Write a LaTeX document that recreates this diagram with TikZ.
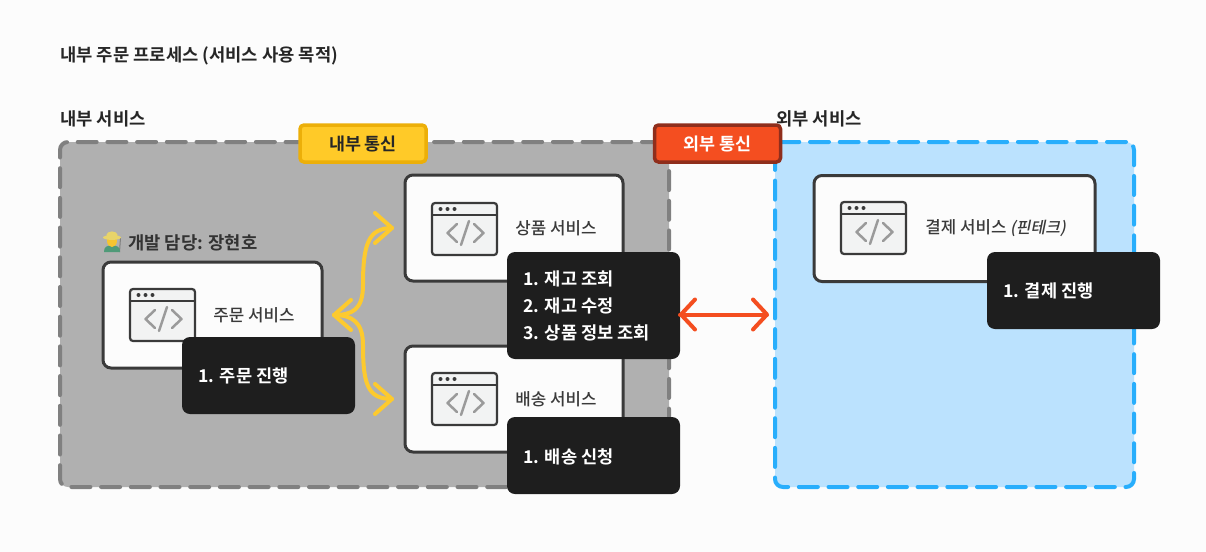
\documentclass[tikz,border=0pt]{standalone}
\usepackage{fontspec}
\setmainfont{Noto Sans CJK KR Medium}
\newfontfamily\krbold{Noto Sans CJK KR Bold}
\newfontfamily\krslant[FakeSlant=0.2]{Noto Sans CJK KR Medium}
\definecolor{pagebg}{HTML}{FCFCFC}
\definecolor{graybox}{HTML}{B0B0B0}
\definecolor{graydash}{HTML}{808080}
\definecolor{bluebox}{HTML}{BBE2FE}
\definecolor{bluedash}{HTML}{28AEFC}
\definecolor{tagyellow}{HTML}{FFCA28}
\definecolor{tagyellowline}{HTML}{ECAF09}
\definecolor{tagred}{HTML}{F44E20}
\definecolor{tagredline}{HTML}{8F2E1C}
\definecolor{inkdark}{HTML}{3A3A3A}
\definecolor{noteblack}{HTML}{1E1E1E}
\definecolor{arrowyellow}{HTML}{FDCA2E}
\definecolor{iconfill}{HTML}{F2F3F3}
\definecolor{icongray}{HTML}{9A9A9A}
\definecolor{farmerhat}{HTML}{E8D46A}
\definecolor{farmerface}{HTML}{F5C430}
\definecolor{farmerbody}{HTML}{4F9A78}
\tikzset{
  x=0.5pt,y=-0.5pt,
  zone/.style={draw,line width=2pt,line cap=round,rounded corners=4pt,dash pattern=on 9.5pt off 5.35pt,outer sep=0pt,inner sep=0pt},
  tagbox/.style={draw,line width=1.75pt,rounded corners=2pt,minimum width=63pt,minimum height=18.5pt,outer sep=0pt,inner sep=0pt,font=\krbold\fontsize{8.7}{10}\selectfont},
  service/.style={draw=inkdark,fill=pagebg,line width=1.5pt,rounded corners=4pt,minimum height=53pt,outer sep=0pt,inner sep=0pt},
  note/.style={fill=noteblack,rounded corners=4pt,minimum width=86.5pt,outer sep=0pt,inner sep=0pt},
  notetext/.style={anchor=west,text=white,align=left,inner sep=0pt,font=\krbold\fontsize{8.8}{13.5}\selectfont},
  heading/.style={anchor=west,inner sep=0pt,text=black!85,font=\krbold\fontsize{8.85}{10}\selectfont},
  svclabel/.style={anchor=west,inner sep=0pt,text=inkdark,font=\fontsize{8.4}{10}\selectfont},
  yellowlink/.style={draw=arrowyellow,line width=2pt,line cap=round,line join=round},
  redlink/.style={draw=tagred,line width=2pt,line cap=round,line join=round},
  pics/winicon/.style={code={
    \draw[draw=inkdark,fill=iconfill,line width=1.1pt,rounded corners=1.5pt] (0,0) rectangle (65,52);
    \draw[draw=inkdark,line width=1.1pt] (0,12) -- (65,12);
    \fill[inkdark] (8.5,6) circle (1pt) (15.5,6) circle (1pt) (22.5,6) circle (1pt);
    \draw[icongray,line width=1.25pt,line cap=round,line join=round] (25,21) -- (15.5,30) -- (25,39) (29,42) -- (37,18) (42,21) -- (51.5,30) -- (42,39);
  }}
}
\begin{document}
\begin{tikzpicture}
\useasboundingbox[fill=pagebg] (0,0) rectangle (1206,552);

\node[heading] (title) at (60,56) {내부 주문 프로세스 (서비스 사용 목적)};
\node[heading] (innerlabel) at (60,119) {내부 서비스};
\node[heading] (outerlabel) at (776,119) {외부 서비스};

\node[zone,fill=graybox,draw=graydash,minimum width=304.5pt,minimum height=172.5pt] (inner) at (364.5,314.5) {};
\node[zone,fill=bluebox,draw=bluedash,minimum width=179.5pt,minimum height=172.5pt] (outer) at (954.5,314.5) {};

\node[tagbox,fill=tagyellow,draw=tagyellowline,text=black!85] (tagin) at (363,143.5) {내부 통신};
\node[tagbox,fill=tagred,draw=tagredline,text=white] (tagout) at (717.5,143.5) {외부 통신};

\node[heading,text=black!80] (owner) at (128,243) {개발 담당: 장현호};

% small farmer figure beside the owner label
\draw[gray,line width=0.5pt] (120.5,238) -- (119.5,252);
\fill[farmerbody] (104,252) .. controls (104,246.5) and (107,245.5) .. (112,245.5) .. controls (117,245.5) and (120,246.5) .. (120,252) -- cycle;
\fill[farmerface] (112,241) ellipse (2.5pt and 3pt);
\fill[farmerhat] (112,237.5) ellipse (4.5pt and 1.2pt);
\fill[farmerhat] (112,235) ellipse (2.8pt and 1.8pt);

\node[service,minimum width=109.5pt] (order) at (212.5,315) {};
\node[service,minimum width=109pt] (product) at (514,228) {};
\node[service,minimum width=109pt] (shipping) at (514,399) {};
\node[service,minimum width=140.5pt] (payment) at (954.5,228.5) {};

\pic at (130,289) {winicon};
\pic at (432,203) {winicon};
\pic at (432,373) {winicon};
\pic at (841,202) {winicon};

\node[svclabel] (orderlabel) at (213,315) {주문 서비스};
\node[svclabel] (productlabel) at (515,228) {상품 서비스};
\node[svclabel] (shippinglabel) at (515,399) {배송 서비스};
\node[svclabel] (paymentlabel) at (925,228) {결제 서비스 {\krslant\fontsize{8}{10}\selectfont(핀테크)}};

\draw[yellowlink,shorten <=6pt,shorten >=6.5pt] (order.east) .. controls (352,315) and (363,310) .. (363,285) .. controls (363,245) and (368,228) .. (product.west);
\draw[yellowlink,shorten <=6pt,shorten >=6.5pt] (order.east) .. controls (352,315) and (363,322) .. (363,345) .. controls (363,385) and (368,399) .. (shipping.west);
\draw[yellowlink] ([shift={(29,-15)}]order.east) -- ([shift={(12,0)}]order.east) -- ([shift={(29,15)}]order.east);
\draw[yellowlink] ([shift={(-30,-15)}]product.west) -- ([shift={(-13,0)}]product.west) -- ([shift={(-30,15)}]product.west);
\draw[yellowlink] ([shift={(-30,-15)}]shipping.west) -- ([shift={(-13,0)}]shipping.west) -- ([shift={(-30,15)}]shipping.west);

\node[note,minimum height=38.5pt] (ordernote) at (268.5,375.5) {};
\node[note,minimum height=53.5pt] (productnote) at (593.5,305.5) {};
\node[note,minimum height=38.5pt] (shippingnote) at (593.5,455.5) {};
\node[note,minimum height=38.5pt] (paymentnote) at (1073.5,290.5) {};

\node[notetext] (ordertext) at (198,376) {1. 주문 진행};
\node[notetext] (producttext) at (523,306) {1. 재고 조회\\2. 재고 수정\\3. 상품 정보 조회};
\node[notetext] (shippingtext) at (523,457) {1. 배송 신청};
\node[notetext] (paymenttext) at (1003,291) {1. 결제 진행};

\draw[redlink,shorten <=5.5pt,shorten >=4pt] (inner.east) -- (outer.west);
\draw[redlink] ([shift={(26,-15)}]inner.east) -- ([shift={(12,0)}]inner.east) -- ([shift={(26,15)}]inner.east);
\draw[redlink] ([shift={(-22,-15)}]outer.west) -- ([shift={(-8,0)}]outer.west) -- ([shift={(-22,15)}]outer.west);
\end{tikzpicture}
\end{document}
